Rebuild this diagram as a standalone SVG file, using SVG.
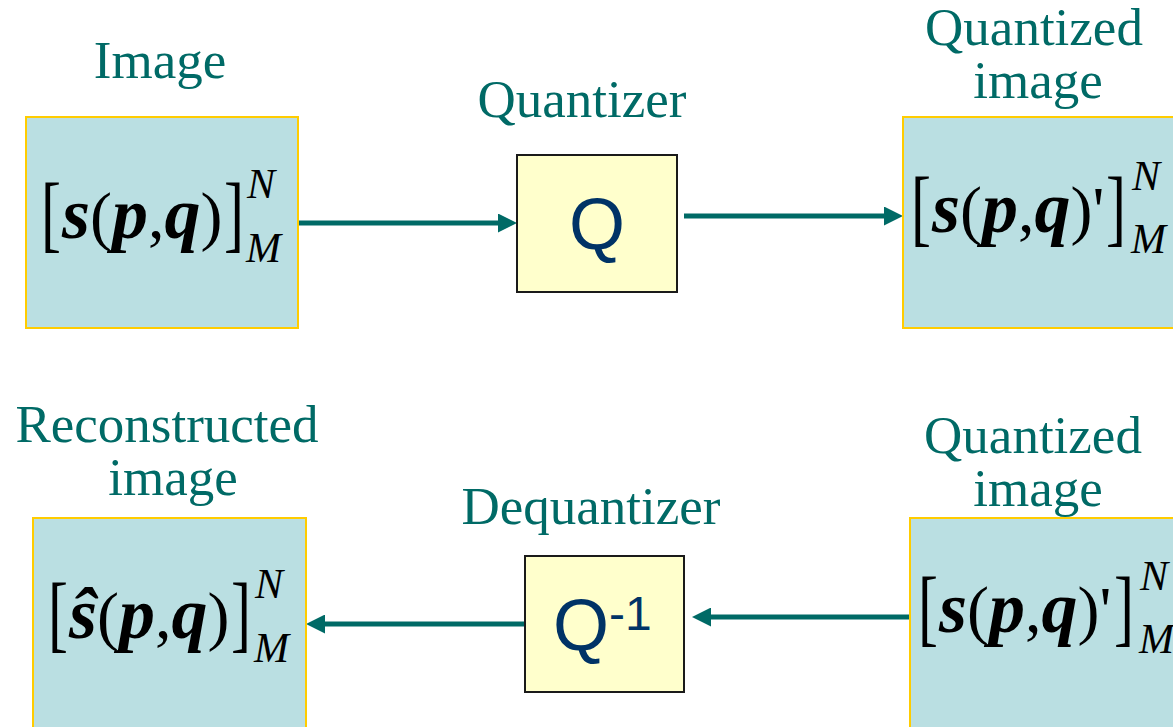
<svg xmlns="http://www.w3.org/2000/svg" width="1173" height="727" viewBox="0 0 1173 727">
<defs>
<style>
.img{fill:#badfe2;stroke:#ffcc00;stroke-width:2}
.blk{fill:#ffffcc;stroke:#1a1a1a;stroke-width:2}
.lbl{font-family:"Liberation Serif","Times New Roman",serif;font-size:53px;fill:#006a66;text-anchor:middle}
.m{font-family:"Liberation Serif","Times New Roman",serif;fill:#000}
.br{font-size:60px}
.bi{font-size:72px;font-style:italic;font-weight:bold}
.n{font-size:66px}
.ix{font-family:"Liberation Serif","Times New Roman",serif;fill:#000;font-size:42px;font-style:italic}
.qt{font-family:"Liberation Sans",Arial,sans-serif;fill:#003366}
.conn{stroke:#006a66;stroke-width:5;fill:none;marker-end:url(#ah)}
</style>
<marker id="ah" viewBox="0 0 19 19" markerWidth="19" markerHeight="19" markerUnits="userSpaceOnUse" refX="4" refY="9.5" orient="auto">
<path d="M0,0 L19,9.5 L0,19 Z" fill="#006a66"/>
</marker>
</defs>
<rect width="1173" height="727" fill="#fff"/>

<g id="connectors">
<line class="conn" x1="298" y1="223" x2="502" y2="223"/>
<line class="conn" x1="684" y1="216" x2="888" y2="216"/>
<line class="conn" x1="910" y1="617" x2="707" y2="617"/>
<line class="conn" x1="525" y1="624" x2="321" y2="624"/>
</g>

<g id="image">
<text class="lbl" x="160" y="78">Image</text>
<rect class="img" x="26" y="117" width="272" height="211"/>
<text class="m br" transform="translate(41,242) scale(1,1.4)">[</text>
<text class="m" x="62" y="238"><tspan class="bi">s</tspan><tspan class="n">(</tspan><tspan class="bi">p</tspan><tspan class="n">,</tspan><tspan class="bi">q</tspan><tspan class="n">)</tspan></text>
<text class="m br" transform="translate(224,242) scale(1,1.4)">]</text>
<text class="ix" x="247" y="198">N</text>
<text class="ix" x="246" y="262">M</text>
</g>

<g id="quantizer">
<text class="lbl" x="582" y="117">Quantizer</text>
<rect class="blk" x="517" y="155" width="160" height="137"/>
<text class="qt" x="597" y="249" font-size="72" text-anchor="middle">Q</text>
</g>

<g id="quantized-image-top">
<text class="lbl" x="1034" y="45">Quantized</text>
<text class="lbl" x="1038" y="98">image</text>
<rect class="img" x="903" y="117" width="280" height="211"/>
<text class="m br" transform="translate(911,236) scale(1,1.4)">[</text>
<text class="m" x="932" y="232"><tspan class="bi">s</tspan><tspan class="n">(</tspan><tspan class="bi">p</tspan><tspan class="n">,</tspan><tspan class="bi">q</tspan><tspan class="n">)</tspan><tspan class="n">'</tspan></text>
<text class="m br" transform="translate(1106,236) scale(1,1.4)">]</text>
<text class="ix" x="1132" y="190">N</text>
<text class="ix" x="1131" y="253">M</text>
</g>

<g id="reconstructed-image">
<text class="lbl" x="167" y="442">Reconstructed</text>
<text class="lbl" x="173" y="495">image</text>
<rect class="img" x="33" y="518" width="273" height="230"/>
<text class="m br" transform="translate(48,642) scale(1,1.4)">[</text>
<text class="m" x="69" y="638"><tspan class="bi">ŝ</tspan><tspan class="n">(</tspan><tspan class="bi">p</tspan><tspan class="n">,</tspan><tspan class="bi">q</tspan><tspan class="n">)</tspan></text>
<text class="m br" transform="translate(231,642) scale(1,1.4)">]</text>
<text class="ix" x="255" y="598">N</text>
<text class="ix" x="254" y="662">M</text>
</g>

<g id="dequantizer">
<text class="lbl" x="591" y="524">Dequantizer</text>
<rect class="blk" x="525" y="556" width="159" height="136"/>
<text class="qt" x="553" y="650" font-size="72">Q<tspan font-size="48" dy="-20">-1</tspan></text>
</g>

<g id="quantized-image-bottom">
<text class="lbl" x="1033" y="453">Quantized</text>
<text class="lbl" x="1038" y="506">image</text>
<rect class="img" x="910" y="518" width="280" height="230"/>
<text class="m br" transform="translate(918,636) scale(1,1.4)">[</text>
<text class="m" x="939" y="632"><tspan class="bi">s</tspan><tspan class="n">(</tspan><tspan class="bi">p</tspan><tspan class="n">,</tspan><tspan class="bi">q</tspan><tspan class="n">)</tspan><tspan class="n">'</tspan></text>
<text class="m br" transform="translate(1114,636) scale(1,1.4)">]</text>
<text class="ix" x="1140" y="590">N</text>
<text class="ix" x="1139" y="653">M</text>
</g>
</svg>
